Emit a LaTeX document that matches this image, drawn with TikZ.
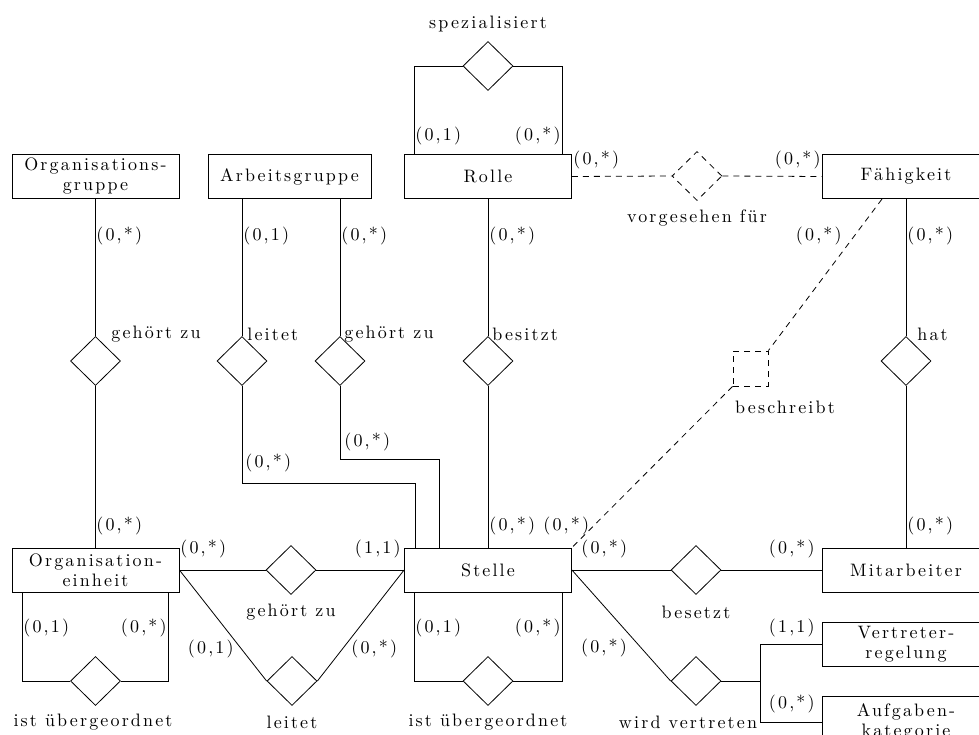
\documentclass[tikz,border=0pt]{standalone}
\usepackage{fontspec}
\setmainfont{lmroman10-regular.otf}[LetterSpace=12]
\usetikzlibrary{shapes.geometric}
\tikzset{
  entity/.style={draw, rectangle, minimum width=167pt, minimum height=44pt, inner sep=0pt, align=center},
  rel/.style={draw, diamond, minimum width=50pt, minimum height=49pt, inner sep=0pt},
  sq/.style={draw, rectangle, minimum size=35pt, inner sep=0pt},
  dsh/.style={dash pattern=on 6pt off 5pt},
  card/.style={inner sep=1pt},
  lbl/.style={inner sep=0pt},
}
\begin{document}
\begin{tikzpicture}[x=1pt,y=-1pt,line width=0.8pt,font=\fontsize{18}{20}\selectfont]
\useasboundingbox (0,0) rectangle (979,735);
\clip (0,0) rectangle (979,735);
% entities
\node[entity] (og) at (95.5,176.5) {Organisations-\\gruppe};
\node[entity, minimum width=163pt] (ag) at (289.5,176.5) {Arbeitsgruppe};
\node[entity] (rolle) at (488,176.5) {Rolle};
\node[entity, minimum width=168pt] (faeh) at (906,176.5) {F\"ahigkeit};
\node[entity] (oe) at (95.5,570) {Organisation-\\einheit};
\node[entity] (stelle) at (488,570) {Stelle};
\node[entity, minimum width=168pt] (mitarb) at (906,570) {Mitarbeiter};
\node[entity, minimum width=168pt] (vertr) at (906,644) {Vertreter-\\regelung};
\node[entity, minimum width=168pt, minimum height=52pt] (aufg) at (906,722) {Aufgaben-\\kategorie};
% relationships
\node[rel] (r1) at (95.5,361) {};
\node[rel] (r2) at (242,361) {};
\node[rel] (r3) at (340,361) {};
\node[rel] (r4) at (488,361) {};
\node[rel] (r5) at (906,361) {};
\node[rel] (r6) at (488,66) {};
\node[rel, dsh] (r7) at (697,176) {};
\node[sq, dsh] (r8) at (750.5,368.5) {};
\node[rel] (r9) at (291,570) {};
\node[rel] (r10) at (292,681) {};
\node[rel] (r11) at (95.5,681) {};
\node[rel] (r12) at (488,681) {};
\node[rel] (r13) at (696,570) {};
\node[rel] (r14) at (696,681) {};
% helper coordinates
\coordinate (k1) at (415,483);
\coordinate (k2) at (439,459);
\coordinate (sl) at (414,66);
\coordinate (sr) at (562,66);
\coordinate (fb) at (882,199);
\coordinate (ol) at (22,681);
\coordinate (or) at (168,681);
\coordinate (stl) at (414,681);
\coordinate (str) at (562,681);
\coordinate (j) at (760,681);
% connectors
\draw (og.south) -- (r1.north) (r1.south) -- (oe.north);
\draw (r2.north |- ag.south) -- (r2.north);
\draw (r2.south) |- (k1) -- (k1 |- stelle.north);
\draw (r3.north |- ag.south) -- (r3.north);
\draw (r3.south) |- (k2) -- (k2 |- stelle.north);
\draw (rolle.south) -- (r4.north) (r4.south) -- (stelle.north);
\draw (faeh.south) -- (r5.north) (r5.south) -- (mitarb.north);
\draw (sl |- rolle.north) -- (sl) -- (r6.west);
\draw (sr |- rolle.north) -- (sr) -- (r6.east);
\draw[dsh] (rolle.east) -- (r7.west) (r7.east) -- (faeh.west);
\draw[dsh] (fb) -- (r8.north east);
\draw[dsh] (r8.south west) -- (stelle.north east);
\draw (oe.east) -- (r9.west) (r9.east) -- (stelle.west);
\draw (oe.east) -- (r10.west) (r10.east) -- (stelle.west);
\draw (ol |- oe.south) -- (ol) -- (r11.west);
\draw (or |- oe.south) -- (or) -- (r11.east);
\draw (stl |- stelle.south) -- (stl) -- (r12.west);
\draw (str |- stelle.south) -- (str) -- (r12.east);
\draw (stelle.east) -- (r13.west) (r13.east) -- (mitarb.west);
\draw (stelle.east) -- (r14.west);
\draw (r14.east) -- (j);
\draw (vertr.west) -| (j) |- (aufg.west);
% relationship names
\node[lbl] (n6) at (488,24) {spezialisiert};
\node[lbl] (n7) at (697,218) {vorgesehen f\"ur};
\node[lbl, anchor=west] (n1) at (111,334) {geh\"ort zu};
\node[lbl, anchor=west] (n2) at (247,334) {leitet};
\node[lbl, anchor=west] (n3) at (344,334) {geh\"ort zu};
\node[lbl, anchor=west] (n4) at (492,334) {besitzt};
\node[lbl, anchor=west] (n5) at (917,334) {hat};
\node[lbl] (n8) at (785,407) {beschreibt};
\node[lbl] (n9) at (291,612) {geh\"ort zu};
\node[lbl] (n13) at (696,612) {besetzt};
\node[lbl] (n11) at (93,722) {ist \"ubergeordnet};
\node[lbl] (n10) at (292,722) {leitet};
\node[lbl] (n12) at (488,722) {ist \"ubergeordnet};
\node[lbl] (n14) at (688,722) {wird vertreten};
% cardinalities
\node[card, anchor=west] (c1) at (95,236) {(0,*)};
\node[card, anchor=west] (c2) at (242,236) {(0,1)};
\node[card, anchor=west] (c3) at (340,236) {(0,*)};
\node[card, anchor=west] (c4) at (488,236) {(0,*)};
\node[card, anchor=east] (c5) at (843,236) {(0,*)};
\node[card, anchor=west] (c6) at (906,236) {(0,*)};
\node[card, anchor=west] (c7) at (414,136) {(0,1)};
\node[card, anchor=east] (c8) at (562,136) {(0,*)};
\node[card, anchor=west] (c9) at (572,160) {(0,*)};
\node[card, anchor=east] (c10) at (822,160) {(0,*)};
\node[card, anchor=west] (c11) at (244,463) {(0,*)};
\node[card, anchor=west] (c12) at (343,442) {(0,*)};
\node[card, anchor=west] (c13) at (95,526) {(0,*)};
\node[card, anchor=west] (c14) at (488,526) {(0,*)};
\node[card, anchor=west] (c15) at (542,526) {(0,*)};
\node[card, anchor=west] (c16) at (906,526) {(0,*)};
\node[card, anchor=west] (c17) at (179,549) {(0,*)};
\node[card, anchor=east] (c18) at (402,549) {(1,1)};
\node[card, anchor=west] (c19) at (580,549) {(0,*)};
\node[card, anchor=east] (c20) at (816,549) {(0,*)};
\node[card, anchor=west] (c21) at (22,628) {(0,1)};
\node[card, anchor=east] (c22) at (168,628) {(0,*)};
\node[card, anchor=east] (c23) at (235,649) {(0,1)};
\node[card, anchor=west] (c24) at (350,649) {(0,*)};
\node[card, anchor=west] (c25) at (414,628) {(0,1)};
\node[card, anchor=east] (c26) at (562,628) {(0,*)};
\node[card] (c27) at (604,648) {(0,*)};
\node[card, anchor=east] (c28) at (816,628) {(1,1)};
\node[card, anchor=east] (c29) at (816,704) {(0,*)};
\end{tikzpicture}
\end{document}
